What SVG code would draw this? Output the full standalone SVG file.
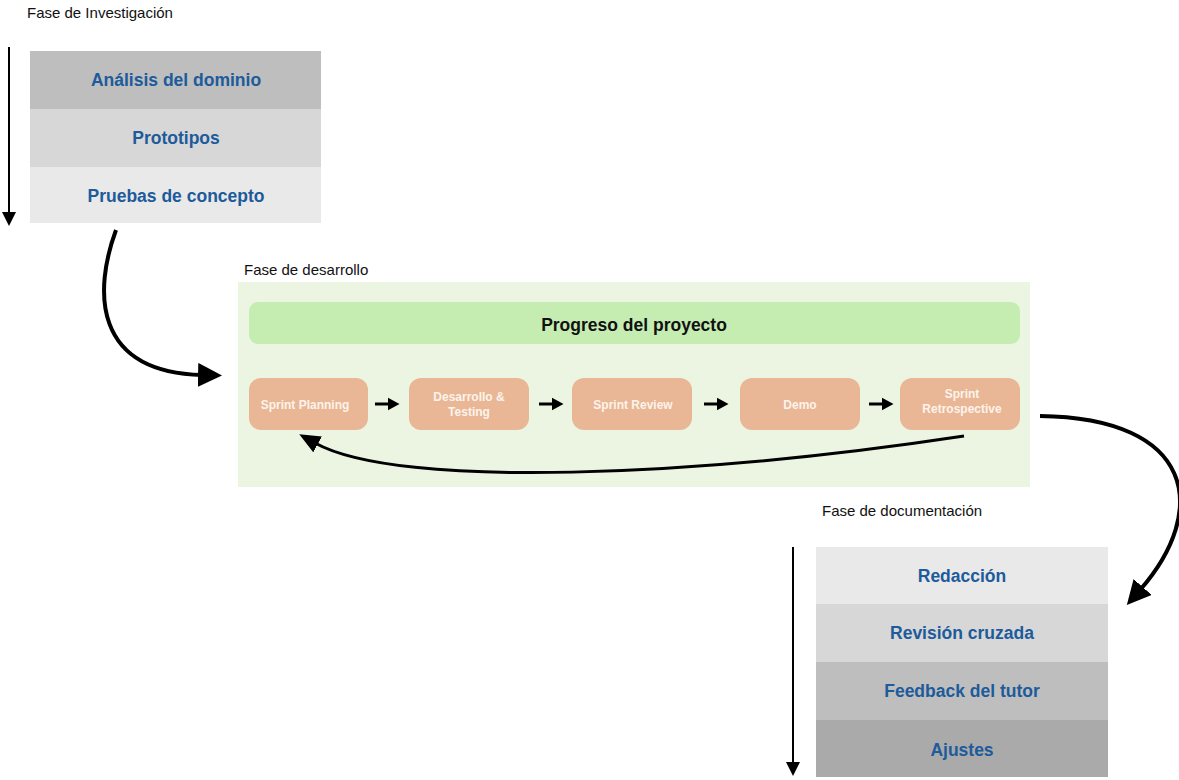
<svg xmlns="http://www.w3.org/2000/svg" width="1179" height="780" viewBox="0 0 1179 780">
<defs>
<style>
.phase{font-family:"Liberation Sans",Arial,sans-serif;font-size:15px;fill:#111}
.lbl{font-family:"Liberation Sans",Arial,sans-serif;font-size:17.5px;font-weight:bold;fill:#1d5b9b;text-anchor:middle}
.prog{font-family:"Liberation Sans",Arial,sans-serif;font-size:17.5px;font-weight:bold;fill:#111;text-anchor:middle}
.step{fill:#e9b795}
.stxt{font-family:"Liberation Sans",Arial,sans-serif;font-size:12px;font-weight:bold;fill:#fdf3ec;text-anchor:middle}
.big{fill:none;stroke:#000;stroke-width:4}
.mid{fill:none;stroke:#000;stroke-width:3}
.thin{fill:none;stroke:#000;stroke-width:2}
.small{fill:none;stroke:#000;stroke-width:3}
</style>
<marker id="ahBig" markerWidth="6" markerHeight="6" refX="1" refY="3" orient="auto" markerUnits="strokeWidth">
<path d="M0,0 L6,3 L0,6 Z" fill="#000"/>
</marker>
<marker id="ahMid" markerWidth="7" markerHeight="6" refX="1" refY="3" orient="auto" markerUnits="strokeWidth">
<path d="M0,0 L7,3 L0,6 Z" fill="#000"/>
</marker>
<marker id="ahThin" markerWidth="7" markerHeight="7" refX="1" refY="3.5" orient="auto" markerUnits="strokeWidth">
<path d="M0,0 L7,3.5 L0,7 Z" fill="#000"/>
</marker>
<marker id="ahSmall" markerWidth="4" markerHeight="4.4" refX="0.5" refY="2.2" orient="auto" markerUnits="strokeWidth">
<path d="M0,0 L4,2.2 L0,4.4 Z" fill="#000"/>
</marker>
</defs>
<rect width="1179" height="780" fill="#fff"/>

<!-- Fase de Investigación -->
<g id="fase-investigacion">
<text class="phase" x="27" y="18">Fase de Investigación</text>
<line class="thin" x1="9" y1="47" x2="9" y2="214" marker-end="url(#ahThin)"/>
</g>
<g id="analisis">
<rect x="30" y="51" width="291" height="58" fill="#bebebe"/>
<text class="lbl" x="176" y="86">Análisis del dominio</text>
</g>
<g id="prototipos">
<rect x="30" y="109" width="291" height="58" fill="#d7d7d7"/>
<text class="lbl" x="176" y="144">Prototipos</text>
</g>
<g id="pruebas">
<rect x="30" y="167" width="291" height="56" fill="#e9e9e9"/>
<text class="lbl" x="176" y="202">Pruebas de concepto</text>
</g>

<!-- Fase de desarrollo -->
<g id="fase-desarrollo">
<text class="phase" x="244" y="275">Fase de desarrollo</text>
<rect x="238" y="282" width="792" height="205" fill="#ebf5e1"/>
</g>
<g id="progreso">
<rect x="249" y="302" width="771" height="42" rx="9" fill="#c5edb1"/>
<text class="prog" x="634" y="331">Progreso del proyecto</text>
</g>
<g id="sprint-planning">
<rect class="step" x="249" y="378" width="119" height="52" rx="12"/>
<text class="stxt" x="305" y="409">Sprint Planning</text>
</g>
<g id="desarrollo-testing">
<rect class="step" x="409" y="378" width="120" height="52" rx="12"/>
<text class="stxt" x="469" y="401">Desarrollo &amp;</text>
<text class="stxt" x="469" y="416">Testing</text>
</g>
<g id="sprint-review">
<rect class="step" x="572" y="378" width="120" height="52" rx="12"/>
<text class="stxt" x="633" y="409">Sprint Review</text>
</g>
<g id="demo">
<rect class="step" x="740" y="378" width="120" height="52" rx="12"/>
<text class="stxt" x="800" y="409">Demo</text>
</g>
<g id="sprint-retrospective">
<rect class="step" x="900" y="378" width="120" height="52" rx="12"/>
<text class="stxt" x="962" y="398">Sprint</text>
<text class="stxt" x="962" y="413">Retrospective</text>
</g>

<!-- Fase de documentación -->
<g id="fase-documentacion">
<text class="phase" x="822" y="516">Fase de documentación</text>
<line class="thin" x1="793" y1="547" x2="793" y2="764" marker-end="url(#ahThin)"/>
</g>
<g id="redaccion">
<rect x="816" y="547" width="292" height="57" fill="#e9e9e9"/>
<text class="lbl" x="962" y="582">Redacción</text>
</g>
<g id="revision">
<rect x="816" y="604" width="292" height="58" fill="#d7d7d7"/>
<text class="lbl" x="962" y="639">Revisión cruzada</text>
</g>
<g id="feedback">
<rect x="816" y="662" width="292" height="58" fill="#bebebe"/>
<text class="lbl" x="962" y="697">Feedback del tutor</text>
</g>
<g id="ajustes">
<rect x="816" y="720" width="292" height="57" fill="#aaaaaa"/>
<text class="lbl" x="962" y="756">Ajustes</text>
</g>

<!-- Connectors -->
<g id="connectors">
<path class="big" d="M116,230 C94,290 92,372 202,375" marker-end="url(#ahBig)"/>
<line class="small" x1="375" y1="404" x2="389" y2="404" marker-end="url(#ahSmall)"/>
<line class="small" x1="539" y1="404" x2="553" y2="404" marker-end="url(#ahSmall)"/>
<line class="small" x1="704" y1="404" x2="718" y2="404" marker-end="url(#ahSmall)"/>
<line class="small" x1="869" y1="404" x2="883" y2="404" marker-end="url(#ahSmall)"/>
<path class="mid" d="M964,436 C700,476 400,490 315,443" marker-end="url(#ahMid)"/>
<path class="big" d="M1040,416 C1195,418 1210,510 1140,590" marker-end="url(#ahBig)"/>
</g>
</svg>
